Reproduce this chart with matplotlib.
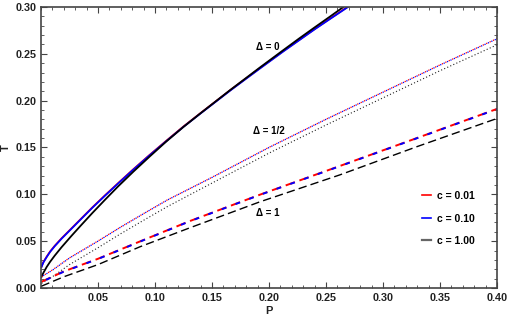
import matplotlib.pyplot as plt
from matplotlib.ticker import MultipleLocator, FormatStrFormatter
from matplotlib.lines import Line2D

plt.rcParams['font.family'] = ['Liberation Sans', 'DejaVu Sans']

# Delta = 0 (solid)
p0 = [0.0005, 0.002, 0.005, 0.008, 0.012, 0.018, 0.0266, 0.035, 0.045, 0.056, 0.0675, 0.081,
      0.095, 0.11, 0.125, 0.14, 0.153, 0.166, 0.179, 0.192, 0.2126, 0.226, 0.24, 0.254, 0.269]
t0_red = [0.0230, 0.0275, 0.0335, 0.0390, 0.0450, 0.0530, 0.0635, 0.0738, 0.0860, 0.0988, 0.1118, 0.1268,
          0.1418, 0.1573, 0.1725, 0.1868, 0.1990, 0.2112, 0.2230, 0.2347, 0.2530, 0.2645, 0.2765, 0.2880, 0.3002]
t0_blue = [0.0226, 0.0271, 0.0331, 0.0386, 0.0446, 0.0526, 0.0631, 0.0734, 0.0856, 0.0984, 0.1114, 0.1264,
           0.1414, 0.1569, 0.1721, 0.1864, 0.1986, 0.2108, 0.2226, 0.2343, 0.2526, 0.2641, 0.2761, 0.2876, 0.2998]
p0_black = [0.0005, 0.002, 0.005, 0.008, 0.012, 0.018, 0.0266, 0.035, 0.045, 0.056, 0.0675, 0.081,
            0.095, 0.11, 0.125, 0.14, 0.153, 0.166, 0.179, 0.192, 0.2126, 0.226, 0.24, 0.254, 0.265]
t0_black = [0.0120, 0.0160, 0.0225, 0.0280, 0.0345, 0.0435, 0.0555, 0.0668, 0.0800, 0.0940, 0.1083, 0.1242,
            0.1400, 0.1565, 0.1720, 0.1866, 0.1990, 0.2114, 0.2234, 0.2354, 0.2540, 0.2660, 0.2782, 0.2902, 0.2998]

# Delta = 1/2 (dotted)
ph = [0.0005, 0.01, 0.025, 0.05, 0.07, 0.091, 0.111, 0.15, 0.2, 0.25, 0.3, 0.35, 0.4]
th_red = [0.0122, 0.0192, 0.0322, 0.0502, 0.0652, 0.0802, 0.0942, 0.1182, 0.1502, 0.1802, 0.2092, 0.2382, 0.2662]
th_blue = [0.012, 0.019, 0.032, 0.05, 0.065, 0.08, 0.094, 0.118, 0.15, 0.18, 0.209, 0.238, 0.266]
th_black = [0.005, 0.012, 0.025, 0.043, 0.058, 0.073, 0.087, 0.112, 0.144, 0.174, 0.203, 0.232, 0.2596]

# Delta = 1 (dashed)
p1 = [0.0005, 0.02, 0.05, 0.0868, 0.13, 0.192, 0.262, 0.33, 0.4]
t1_red = [0.0067, 0.0177, 0.0312, 0.0497, 0.0712, 0.0996, 0.1302, 0.1602, 0.1912]
t1_blue = [0.0065, 0.0175, 0.031, 0.0495, 0.071, 0.0994, 0.13, 0.16, 0.191]
t1_black = [0.002, 0.012, 0.025, 0.044, 0.064, 0.092, 0.1207, 0.151, 0.181]

labels = ['c = 0.01', 'c = 0.10', 'c = 1.00']

fig = plt.figure(figsize=(5.1, 3.21), dpi=100)
ax = fig.add_axes([41 / 510, 1 - 288 / 321, 456 / 510, 281 / 321])

# solid
ax.plot(p0, t0_red, color='red', lw=1.3)
ax.plot(p0, t0_blue, color='blue', lw=1.3)
ax.plot(p0_black, t0_black, color='black', lw=1.3)

# dotted
ax.plot(ph, th_red, color='red', lw=0.9, linestyle=(0, (1, 2)))
ax.plot(ph, th_blue, color='blue', lw=0.9, linestyle=(1.5, (1, 2)))
ax.plot(ph, th_black, color='#222222', lw=0.8, linestyle=(0, (1, 2)))

# dashed
ax.plot(p1, t1_red, color='red', lw=1.4, linestyle=(0, (5, 2.5)))
ax.plot(p1, t1_blue, color='blue', lw=1.4, linestyle=(-2.5, (2.5, 5)))
ax.plot(p1, t1_black, color='black', lw=1.0, linestyle=(0, (6, 3)))

ax.set_xlim(0, 0.40)
ax.set_ylim(0, 0.30)
ax.xaxis.set_major_locator(MultipleLocator(0.05))
ax.xaxis.set_minor_locator(MultipleLocator(0.01))
ax.yaxis.set_major_locator(MultipleLocator(0.05))
ax.yaxis.set_minor_locator(MultipleLocator(0.01))
ax.xaxis.set_major_formatter(FormatStrFormatter('%.2f'))
ax.yaxis.set_major_formatter(FormatStrFormatter('%.2f'))
ax.set_xticks([0.05, 0.10, 0.15, 0.20, 0.25, 0.30, 0.35, 0.40])
ax.tick_params(which='both', direction='in', top=True, right=True, colors='#444444',
               labelcolor='#222222', labelsize=7.8)
ax.tick_params(which='major', length=4, width=0.8)
ax.tick_params(which='minor', length=2, width=0.6)
for lab in ax.get_xticklabels() + ax.get_yticklabels():
    lab.set_fontweight('bold')
for s in ax.spines.values():
    s.set_color('#444444')
    s.set_linewidth(1.2)

ax.set_xlabel('P', fontsize=8, fontweight='bold', color='#222222', labelpad=2)
ax.set_ylabel('T', fontsize=8, fontweight='bold', color='#222222', labelpad=3)

ax.text(0.199, 0.257, '\u0394 = 0', fontsize=7, fontweight='bold', ha='center', va='center')
ax.text(0.2, 0.168, '\u0394 = 1/2', fontsize=7, fontweight='bold', ha='center', va='center')
ax.text(0.199, 0.08, '\u0394 = 1', fontsize=7, fontweight='bold', ha='center', va='center')

handles = [Line2D([], [], color='red', lw=1.2),
           Line2D([], [], color='blue', lw=1.2),
           Line2D([], [], color='#666666', lw=1.6)]
leg = ax.legend(handles, labels, loc='upper left', bbox_to_anchor=(0.827, 0.36),
                borderaxespad=0, frameon=False, handlelength=0.8, handletextpad=0.6,
                labelspacing=1.2, prop={'size': 7.5, 'weight': 'bold'})

fig.savefig('out.png', dpi=100)
